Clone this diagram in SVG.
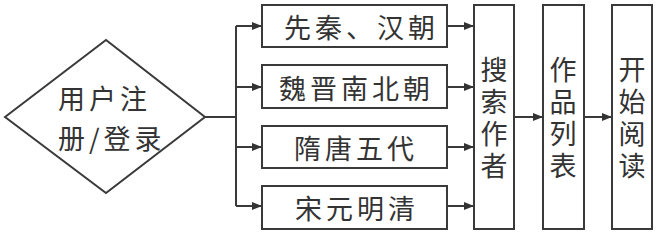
<svg xmlns="http://www.w3.org/2000/svg" width="659" height="234" viewBox="0 0 659 234">
<style>
.shape{fill:#fff;stroke:#3a3a3a;stroke-width:2}
.t{font-family:"Noto Sans CJK SC","Noto Sans",sans-serif;font-size:27px;fill:#333;dominant-baseline:central;letter-spacing:4px}
.v{font-family:"Noto Sans CJK SC","Noto Sans",sans-serif;font-size:27px;fill:#333;writing-mode:vertical-rl;letter-spacing:5px}
.c{fill:none;stroke:#3a3a3a;stroke-width:2}
</style>
<defs>
<marker id="ah" viewBox="0 0 10 8" refX="10" refY="4" markerWidth="10" markerHeight="8" markerUnits="userSpaceOnUse" orient="auto">
<path d="M0,0 L10,4 L0,8 Z" fill="#333"/>
</marker>
</defs>
<rect width="659" height="234" fill="#fff"/>
<g id="connectors">
<path class="c" d="M205,117 H236"/>
<path class="c" d="M236,26 V206"/>
<path class="c" d="M236,26 H262" marker-end="url(#ah)"/>
<path class="c" d="M236,87 H262" marker-end="url(#ah)"/>
<path class="c" d="M236,147 H262" marker-end="url(#ah)"/>
<path class="c" d="M236,206 H262" marker-end="url(#ah)"/>
<path class="c" d="M447,26 H474" marker-end="url(#ah)"/>
<path class="c" d="M447,87 H474" marker-end="url(#ah)"/>
<path class="c" d="M447,147 H474" marker-end="url(#ah)"/>
<path class="c" d="M447,206 H474" marker-end="url(#ah)"/>
<path class="c" d="M514,117 H543" marker-end="url(#ah)"/>
<path class="c" d="M584,117 H612" marker-end="url(#ah)"/>
</g>
<g id="login">
<polygon class="shape" points="5,117 106,40 205,117 106,193"/>
<text class="t" x="58" y="97">用户注</text>
<text class="t" x="58" y="137">册/登录</text>
</g>
<g id="period1">
<rect class="shape" x="262" y="5" width="185" height="42"/>
<text class="t" x="284" y="26">先秦、汉朝</text>
</g>
<g id="period2">
<rect class="shape" x="262" y="65" width="185" height="43"/>
<text class="t" x="279" y="87">魏晋南北朝</text>
</g>
<g id="period3">
<rect class="shape" x="262" y="126" width="185" height="42"/>
<text class="t" x="294" y="147">隋唐五代</text>
</g>
<g id="period4">
<rect class="shape" x="262" y="186" width="185" height="43"/>
<text class="t" x="295" y="207">宋元明清</text>
</g>
<g id="search">
<rect class="shape" x="474" y="5" width="40" height="224"/>
<text class="v" x="494" y="56">搜索作者</text>
</g>
<g id="works">
<rect class="shape" x="543" y="5" width="41" height="224"/>
<text class="v" x="563" y="56">作品列表</text>
</g>
<g id="read">
<rect class="shape" x="612" y="5" width="40" height="224"/>
<text class="v" x="632" y="56">开始阅读</text>
</g>
</svg>
